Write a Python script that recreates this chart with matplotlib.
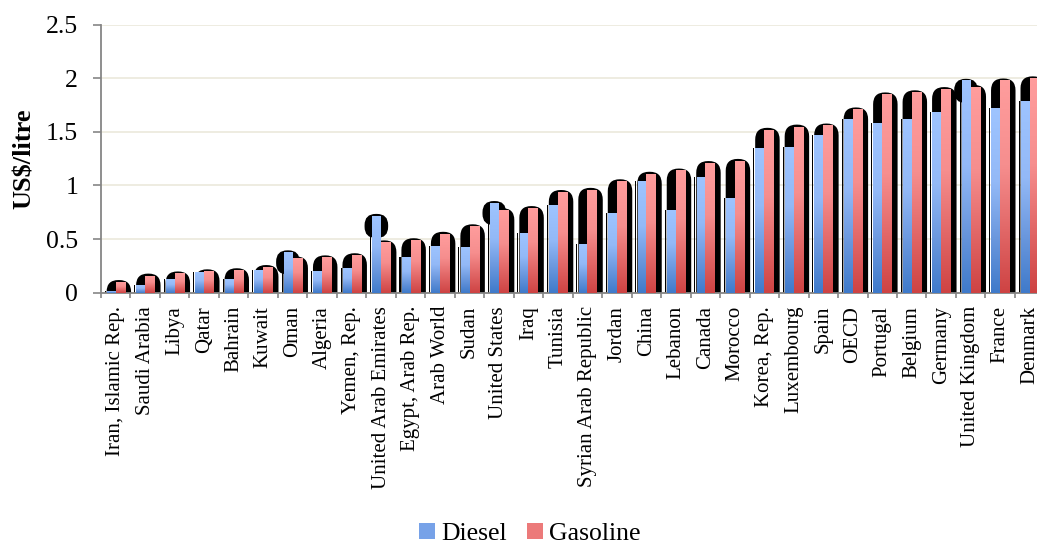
import numpy as np
import matplotlib
matplotlib.use("Agg")
import matplotlib.pyplot as plt
from matplotlib.patches import FancyBboxPatch, Rectangle, Patch
from matplotlib.colors import LinearSegmentedColormap

# ===== DATA =====
countries = ["Iran, Islamic Rep.", "Saudi Arabia", "Libya", "Qatar", "Bahrain", "Kuwait",
             "Oman", "Algeria", "Yemen, Rep.", "United Arab Emirates", "Egypt, Arab Rep.",
             "Arab World", "Sudan", "United States", "Iraq", "Tunisia",
             "Syrian Arab Republic", "Jordan", "China", "Lebanon", "Canada", "Morocco",
             "Korea, Rep.", "Luxembourg", "Spain", "OECD", "Portugal", "Belgium",
             "Germany", "United Kingdom", "France", "Denmark"]
diesel = [0.02, 0.07, 0.13, 0.19, 0.13, 0.21, 0.38, 0.20, 0.23, 0.72,
          0.33, 0.44, 0.43, 0.84, 0.56, 0.82, 0.45, 0.74, 1.04, 0.77,
          1.08, 0.88, 1.35, 1.36, 1.47, 1.62, 1.58, 1.62, 1.69, 1.98,
          1.72, 1.79]
gasoline = [0.10, 0.16, 0.18, 0.20, 0.21, 0.24, 0.32, 0.33, 0.35, 0.47,
            0.49, 0.55, 0.62, 0.77, 0.79, 0.94, 0.96, 1.04, 1.11, 1.14,
            1.21, 1.23, 1.52, 1.55, 1.56, 1.71, 1.85, 1.87, 1.90, 1.92,
            1.98, 2.00]
yticks = [0, 0.5, 1, 1.5, 2, 2.5]

# ===== STYLE =====
plt.rcParams['font.family'] = ['Liberation Serif', 'DejaVu Serif']
grey = '#868686'
blue_cmap = LinearSegmentedColormap.from_list(
    'blue', [(0, '#3F7ACA'), (0.3, '#6B98DE'), (0.6, '#93B9F7'), (1, '#9EC4FF')])
red_cmap = LinearSegmentedColormap.from_list(
    'red', [(0, '#CE4343'), (0.3, '#E26868'), (0.6, '#F68E8E'), (1, '#FF9D9D')])

W, H = 1037, 545
fig = plt.figure(figsize=(W / 100, H / 100), dpi=100)
left, right, top, bottom = 101, 1044.4, 24.7, 292.7
ax = fig.add_axes([left / W, 1 - bottom / H, (right - left) / W, (bottom - top) / H])

x = np.arange(len(countries))
ymax = 2.5
# ratio of pixel sizes of one x unit and one y unit, for round corners
asp = ((right - left) / len(countries)) / ((bottom - top) / ymax)

# ===== SHADOWS =====
for xi, d, g in zip(x, diesel, gasoline):
    ax.add_patch(FancyBboxPatch((xi - 0.31, -0.3), 0.83, g + 0.318,
                                boxstyle="round,pad=0,rounding_size=0.4",
                                mutation_aspect=asp, fc='black', ec='none', zorder=1))
    ax.add_patch(Rectangle((xi - 0.375, 0), 0.035, d, fc='black', ec='none', zorder=1))
    if d > g:
        ax.add_patch(FancyBboxPatch((xi - 0.56, d - 0.21), 0.8, 0.225,
                                    boxstyle="round,pad=0,rounding_size=0.38",
                                    mutation_aspect=asp, fc='black', ec='none', zorder=1))

# ===== BARS =====
b1 = ax.bar(x - 0.15, diesel, width=0.30, color='#7FA8EC', zorder=2)
b2 = ax.bar(x + 0.155, gasoline, width=0.31, color='#EE7F7F', zorder=2)

grad = np.linspace(0, 1, 256).reshape(-1, 1)
for bars, cmap in [(b1, blue_cmap), (b2, red_cmap)]:
    for p in bars:
        x0 = p.get_x()
        im = ax.imshow(grad, extent=[x0, x0 + p.get_width(), 0, p.get_height()],
                       origin='lower', cmap=cmap, aspect='auto', zorder=3,
                       interpolation='bilinear')
        im.set_clip_path(p)

# ===== AXES =====
ax.set_xlim(-0.5, len(countries) - 0.5)
ax.set_ylim(0, ymax)
ax.set_yticks(yticks)
ax.set_yticklabels(['0', '0.5', '1', '1.5', '2', '2.5'])
ax.set_xticks(x)
ax.set_xticklabels(countries, rotation=90, fontsize=15)
ax.set_xticks(np.arange(-0.5, len(countries), 1), minor=True)
ax.tick_params(axis='x', which='major', length=0, pad=9.5)
ax.tick_params(axis='x', which='minor', length=3.8, width=1.2, color=grey)
ax.tick_params(axis='y', length=5.5, width=1.2, color=grey, labelsize=18.5, pad=11)

ax.yaxis.grid(True, color='#EEECE1', linewidth=1.4)
ax.set_axisbelow(True)
for s in ['top', 'right']:
    ax.spines[s].set_visible(False)
for s in ['left', 'bottom']:
    ax.spines[s].set_color(grey)
    ax.spines[s].set_linewidth(1.3)

ax.set_ylabel('US$/litre', fontsize=19, fontweight='bold')
ax.yaxis.set_label_coords(-0.069, 0.5)

# ===== LEGEND =====
handles = [Patch(facecolor='#77A2E8', label='Diesel'),
           Patch(facecolor='#EC7A7A', label='Gasoline')]
fig.legend(handles=handles, loc='center', bbox_to_anchor=(0.511, 0.02), ncol=2,
           frameon=False, fontsize=18.5, handlelength=0.6, handleheight=0.6,
           handletextpad=0.25, columnspacing=0.8, borderpad=0)

plt.savefig('out.png', dpi=100)
